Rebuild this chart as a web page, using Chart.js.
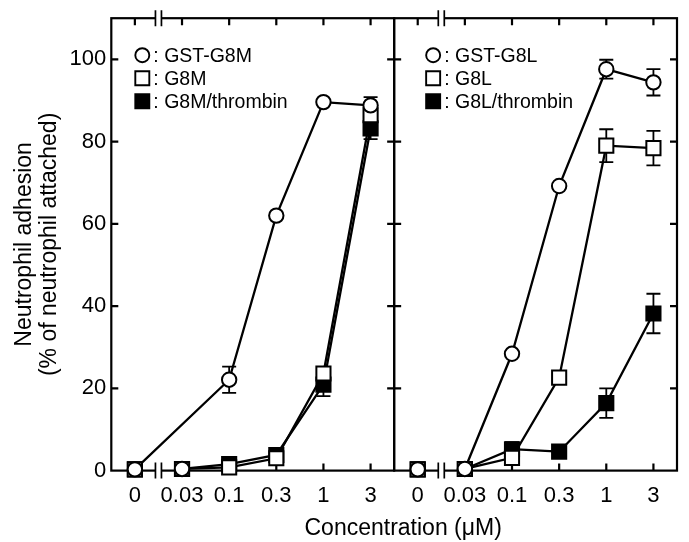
<!DOCTYPE html>
<html lang="en">
<head>
<meta charset="UTF-8" />
<title>Neutrophil adhesion</title>
<script src="https://cdn.jsdelivr.net/npm/chart.js@4.4.1/dist/chart.umd.min.js"></script>
<style>
  html, body { margin: 0; padding: 0; background: #fff; }
</style>
</head>
<body>
<canvas id="adhesionChart" width="689" height="542"></canvas>

<script>
// concentration steps (uM), shared by both panels
const concLabels = ['0', '0.03', '0.1', '0.3', '1', '3'];

// left panel: G8M
const gstG8M     = [0.3, 0.4, 22.1, 62.0, 89.6, 88.8];
const gstG8MErr  = [0, 0, 3.2, 0, 0, 2.0];
const g8M        = [0.3, 0.4, 0.8, 3.0, 23.6, 86.4];
const g8MErr     = [0, 0, 0, 0, 0, 0];
const g8MThr     = [0.3, 0.4, 1.6, 3.8, 20.9, 83.2];
const g8MThrErr  = [0, 0, 0, 0, 2.8, 2.6];

// right panel: G8L
const gstG8L     = [0.3, 0.4, 28.4, 69.2, 97.6, 94.4];
const gstG8LErr  = [0, 0, 0, 0, 2.3, 3.2];
const g8L        = [0.3, 0.4, 3.1, 22.6, 79.0, 78.4];
const g8LErr     = [0, 0, 0, 0, 4.0, 4.2];
const g8LThr     = [0.3, 0.4, 5.2, 4.6, 16.4, 38.2];
const g8LThrErr  = [0, 0, 1.7, 0, 3.6, 4.8];

const FONT = "'Liberation Sans', Arial, Helvetica, sans-serif";
const INK = '#000';

// markers only (drawn above the lines)
function markerSet(label, data, err, axis, style, order) {
    return {
        label: label,
        data: data,
        errors: err,
        xAxisID: axis,
        yAxisID: 'y',
        showLine: false,
        pointStyle: style === 'circle' ? 'circle' : 'rect',
        pointRadius: style === 'circle' ? 7.2 : 10,
        pointHoverRadius: style === 'circle' ? 7.2 : 10,
        pointBackgroundColor: style === 'filled' ? INK : '#fff',
        pointBorderColor: INK,
        pointBorderWidth: 2,
        clip: false,
        order: order
    };
}

// connecting line, with one point left out of the path
function lineSet(data, axis, drop) {
    return {
        data: data.map((v, i) => i === drop ? null : v),
        xAxisID: axis,
        yAxisID: 'y',
        borderColor: INK,
        borderWidth: 2.3,
        pointRadius: 0,
        spanGaps: true,
        tension: 0,
        clip: false,
        order: 10
    };
}

// box frame, inward ticks and axis breaks
const framePlugin = {
    id: 'frame',
    beforeDatasetsDraw(chart) {
        const ctx = chart.ctx;
        const y = chart.scales.y;
        const panels = [chart.scales.xL, chart.scales.xR];
        const top = y.top, bottom = y.bottom;
        const tick = 7;
        ctx.save();
        ctx.strokeStyle = INK;
        ctx.lineWidth = 2.2;
        ctx.lineCap = 'butt';
        panels.forEach(sx => {
            ctx.strokeRect(sx.left, top, sx.right - sx.left, bottom - top);
            ctx.beginPath();
            // y ticks on both sides of the panel
            y.ticks.forEach(t => {
                if (t.value === 0) return;
                const py = y.getPixelForValue(t.value);
                ctx.moveTo(sx.left, py); ctx.lineTo(sx.left + tick, py);
                ctx.moveTo(sx.right, py); ctx.lineTo(sx.right - tick, py);
            });
            // x ticks top and bottom
            concLabels.forEach((c, i) => {
                const px = sx.getPixelForValue(i);
                ctx.moveTo(px, bottom); ctx.lineTo(px, bottom - tick);
                ctx.moveTo(px, top); ctx.lineTo(px, top + tick);
            });
            ctx.stroke();
            // break between 0 and 0.03
            const bx = sx.getPixelForValue(0.5);
            [top, bottom].forEach(ay => {
                ctx.fillStyle = '#fff';
                ctx.fillRect(bx - 3, ay - 2, 6, 4);
                ctx.beginPath();
                ctx.lineWidth = 1.7;
                ctx.moveTo(bx - 3, ay - 8); ctx.lineTo(bx - 3, ay + 8);
                ctx.moveTo(bx + 3, ay - 8); ctx.lineTo(bx + 3, ay + 8);
                ctx.stroke();
                ctx.lineWidth = 2.2;
            });
        });
        ctx.restore();
    }
};

// vertical error bars with caps, under the markers
const errorBarPlugin = {
    id: 'errorBars',
    beforeDatasetsDraw(chart) {
        const ctx = chart.ctx;
        const y = chart.scales.y;
        ctx.save();
        ctx.strokeStyle = INK;
        ctx.lineWidth = 1.8;
        chart.data.datasets.forEach((ds, i) => {
            if (!ds.errors) return;
            const meta = chart.getDatasetMeta(i);
            ds.errors.forEach((e, j) => {
                if (!e) return;
                const x = meta.data[j].x;
                const y1 = y.getPixelForValue(ds.data[j] + e);
                const y2 = y.getPixelForValue(ds.data[j] - e);
                ctx.beginPath();
                ctx.moveTo(x, y1); ctx.lineTo(x, y2);
                ctx.moveTo(x - 7, y1); ctx.lineTo(x + 7, y1);
                ctx.moveTo(x - 7, y2); ctx.lineTo(x + 7, y2);
                ctx.stroke();
            });
        });
        ctx.restore();
    }
};

// in-panel legends and the shared x title
const legendEntries = {
    xL: [['circle', ': GST-G8M'], ['open', ': G8M'], ['filled', ': G8M/thrombin']],
    xR: [['circle', ': GST-G8L'], ['open', ': G8L'], ['filled', ': G8L/thrombin']]
};
const legendPlugin = {
    id: 'panelLegend',
    afterDraw(chart) {
        const ctx = chart.ctx;
        const area = chart.chartArea;
        ctx.save();
        ctx.strokeStyle = INK;
        ctx.lineWidth = 1.9;
        ctx.font = '19.5px ' + FONT;
        ctx.textBaseline = 'middle';
        ctx.fillStyle = INK;
        Object.keys(legendEntries).forEach(id => {
            const sx = chart.scales[id];
            const mx = sx.left + (id === 'xL' ? 31 : 39);
            legendEntries[id].forEach((entry, k) => {
                const my = area.top + 37 + k * 23;
                ctx.beginPath();
                if (entry[0] === 'circle') {
                    ctx.arc(mx, my, 7, 0, Math.PI * 2);
                    ctx.fillStyle = '#fff'; ctx.fill(); ctx.stroke();
                } else {
                    ctx.rect(mx - 7, my - 7, 14, 14);
                    ctx.fillStyle = entry[0] === 'filled' ? INK : '#fff';
                    ctx.fill(); ctx.stroke();
                }
                ctx.fillStyle = INK;
                ctx.textAlign = 'left';
                ctx.fillText(entry[1], mx + 11, my + 1);
            });
        });
        ctx.font = '23px ' + FONT;
        ctx.textAlign = 'center';
        ctx.fillText('Concentration (\u03bcM)', (area.left + area.right) / 2 + 9, area.bottom + 58);
        ctx.restore();
    }
};

const tickFont = { family: FONT, size: 22 };
function xScale() {
    return {
        type: 'category',
        labels: concLabels,
        position: 'bottom',
        stack: 'conc',
        stackWeight: 1,
        offset: true,
        grid: { display: false, drawTicks: false },
        border: { display: false },
        ticks: { font: tickFont, color: INK, padding: 12, autoSkip: false, maxRotation: 0 }
    };
}

new Chart(document.getElementById('adhesionChart'), {
    type: 'line',
    data: {
        datasets: [
            // left panel
            markerSet('GST-G8M', gstG8M, gstG8MErr, 'xL', 'circle', 1),
            markerSet('G8M', g8M, g8MErr, 'xL', 'open', 2),
            markerSet('G8M/thrombin', g8MThr, g8MThrErr, 'xL', 'filled', 3),
            lineSet(gstG8M, 'xL', 1),
            lineSet(g8M, 'xL', 0),
            lineSet(g8MThr, 'xL', 0),
            // right panel
            markerSet('GST-G8L', gstG8L, gstG8LErr, 'xR', 'circle', 1),
            markerSet('G8L', g8L, g8LErr, 'xR', 'open', 2),
            markerSet('G8L/thrombin', g8LThr, g8LThrErr, 'xR', 'filled', 3),
            lineSet(gstG8L, 'xR', 0),
            lineSet(g8L, 'xR', 0),
            lineSet(g8LThr, 'xR', 0)
        ]
    },
    options: {
        responsive: false,
        animation: false,
        layout: { padding: { top: 15, right: 9, bottom: 21, left: 0 } },
        plugins: { legend: { display: false }, tooltip: { enabled: false } },
        scales: {
            xL: xScale(),
            xR: xScale(),
            y: {
                type: 'linear',
                position: 'left',
                min: 0,
                max: 110,
                grid: { display: false, drawTicks: false },
                border: { display: false },
                ticks: { stepSize: 20, includeBounds: false, font: tickFont, color: INK, padding: 5 },
                title: {
                    display: true,
                    text: ['Neutrophil adhesion', '(% of neutrophil attached)'],
                    font: { family: FONT, size: 23, lineHeight: 1.1 },
                    color: INK,
                    padding: { top: 12, bottom: 2 }
                }
            }
        }
    },
    plugins: [framePlugin, errorBarPlugin, legendPlugin]
});
</script>
</body>
</html>
